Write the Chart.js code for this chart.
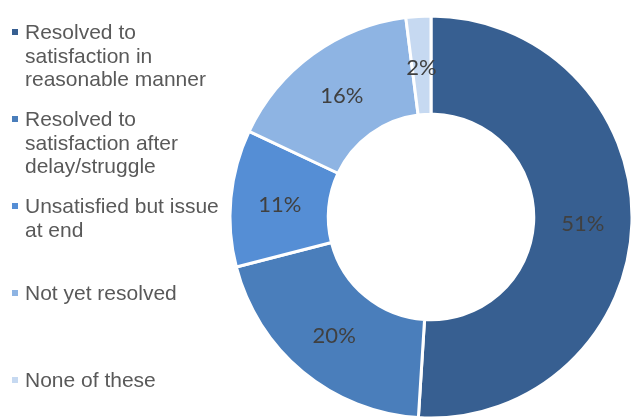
<!DOCTYPE html>
<html>
<head>
<meta charset="utf-8">
<script src="https://cdn.jsdelivr.net/npm/chart.js@4"></script>
<style>
  body { margin: 0; background: #fff; }
  #wrap { position: relative; width: 635px; height: 418px; overflow: hidden; }
  #legend { position: absolute; left: 0; top: 0; }
  .item { position: absolute; left: 0; width: 240px; }
  .swatch { position: absolute; left: 12px; top: 9px; width: 6px; height: 6px; }
  .text { position: absolute; left: 25px; width: 205px; font: 21px "Liberation Sans", Arial, sans-serif; line-height: 23.5px; color: #595959; }
</style>
</head>
<body>
<div id="wrap">
  <canvas id="myChart" width="635" height="418"></canvas>
  <div id="legend"></div>
</div>
<script>
const categories = [
    'Resolved to satisfaction in reasonable manner',
    'Resolved to satisfaction after delay/struggle',
    'Unsatisfied but issue at end',
    'Not yet resolved',
    'None of these'
];
const shares = [51, 20, 11, 16, 2];
const colours = ['#375F91', '#4A7EBB', '#558ED5', '#8EB4E3', '#C6D9F1'];

// legend on the left, one slot per category
const legend = document.getElementById('legend');
categories.forEach(function(name, i) {
    const item = document.createElement('div');
    item.className = 'item';
    item.style.top = (20 + i * 87) + 'px';
    item.innerHTML = '<div class="swatch" style="background:' + colours[i] + '"></div>' +
        '<div class="text">' + name + '</div>';
    legend.appendChild(item);
});

// percentage labels in the middle of each ring segment
const sliceLabels = {
    id: 'sliceLabels',
    afterDatasetsDraw(chart) {
        const ctx = chart.ctx;
        const meta = chart.getDatasetMeta(0);
        ctx.save();
        ctx.font = '22px Lato, "Open Sans", sans-serif';
        ctx.fillStyle = '#404040';
        ctx.textAlign = 'center';
        ctx.textBaseline = 'middle';
        meta.data.forEach(function(arc, i) {
            const a = (arc.startAngle + arc.endAngle) / 2;
            const r = (arc.innerRadius + arc.outerRadius) / 2;
            ctx.fillText(shares[i] + '%', arc.x + Math.cos(a) * r, arc.y + Math.sin(a) * r + 2);
        });
        ctx.restore();
    }
};

const ctx = document.getElementById('myChart').getContext('2d');
new Chart(ctx, {
    type: 'doughnut',
    data: {
        labels: categories,
        datasets: [{
            data: shares,
            backgroundColor: colours,
            borderColor: '#ffffff',
            borderWidth: 3,
            radius: 201,
            cutout: 102
        }]
    },
    options: {
        responsive: false,
        animation: false,
        events: [],
        layout: { padding: { left: 227, right: 0, top: 16, bottom: 0 } },
        plugins: {
            legend: { display: false },
            tooltip: { enabled: false }
        }
    },
    plugins: [sliceLabels]
});
</script>
</body>
</html>
